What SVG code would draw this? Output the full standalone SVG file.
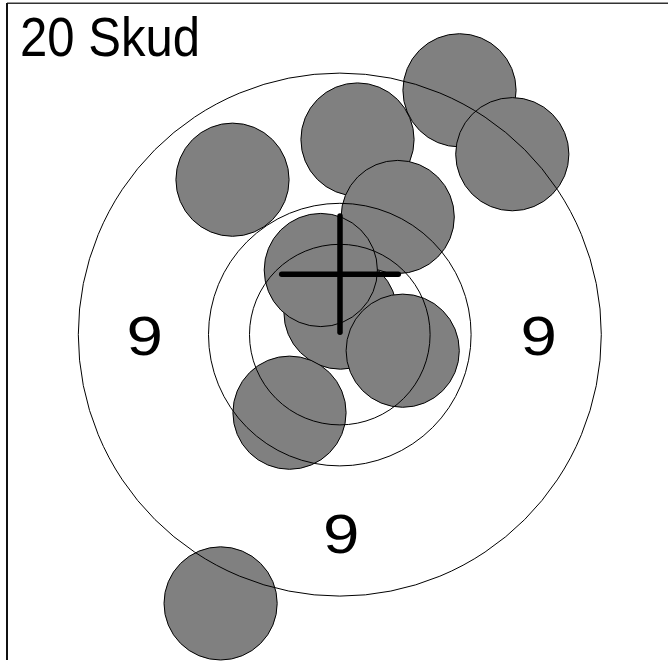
<svg xmlns="http://www.w3.org/2000/svg" width="668" height="663" viewBox="0 0 668 663">
<style>
.shot{fill:#808080;stroke:#000;stroke-width:1}
.ring{fill:none;stroke:#000;stroke-width:1}
.lbl{font-family:"Liberation Sans",Arial,Helvetica,sans-serif;fill:#000}
.cross{stroke:#000;stroke-width:5.5;stroke-linecap:round}
</style>
<rect x="0" y="0" width="668" height="663" fill="#fff"/>
<g id="frame">
<line x1="7" y1="3.2" x2="668" y2="3.2" stroke="#333" stroke-width="1.4"/>
<line x1="7" y1="3" x2="7" y2="660" stroke="#111" stroke-width="2"/>
</g>
<g id="title"><text class="lbl" x="20" y="56" font-size="56" textLength="180" lengthAdjust="spacingAndGlyphs">20 Skud</text></g>
<g id="shots">
<circle id="s1" class="shot" cx="232.5" cy="179.7" r="56.6"/>
<circle id="s2" class="shot" cx="357.5" cy="139.5" r="56.6"/>
<circle id="s3" class="shot" cx="459.5" cy="90.3" r="56.6"/>
<circle id="s4" class="shot" cx="512.3" cy="154.2" r="56.6"/>
<circle id="s7" class="shot" cx="340.5" cy="312.6" r="56.6"/>
<circle id="s5" class="shot" cx="397.7" cy="217" r="56.6"/>
<circle id="s6" class="shot" cx="320.8" cy="270" r="56.6"/>
<circle id="s8" class="shot" cx="402.7" cy="350.7" r="56.6"/>
<circle id="s9" class="shot" cx="289.5" cy="412.7" r="56.6"/>
<circle id="s10" class="shot" cx="220.6" cy="603.4" r="56.6"/>
</g>
<g id="rings">
<circle class="ring" cx="339.8" cy="334.6" r="261.5"/>
<circle class="ring" cx="339.8" cy="334.6" r="131.3"/>
<circle class="ring" cx="339.8" cy="334.6" r="90.3"/>
</g>
<g id="labels">
<text class="lbl" x="126.6" y="355" font-size="56" textLength="36.4" lengthAdjust="spacingAndGlyphs">9</text>
<text class="lbl" x="520.6" y="355" font-size="56" textLength="36.4" lengthAdjust="spacingAndGlyphs">9</text>
<text class="lbl" x="323" y="553" font-size="56" textLength="36.4" lengthAdjust="spacingAndGlyphs">9</text>
</g>
<g id="aim">
<line class="cross" x1="281.7" y1="274.3" x2="398.3" y2="274.3"/>
<line class="cross" x1="340" y1="216" x2="340" y2="332.3"/>
</g>
</svg>
